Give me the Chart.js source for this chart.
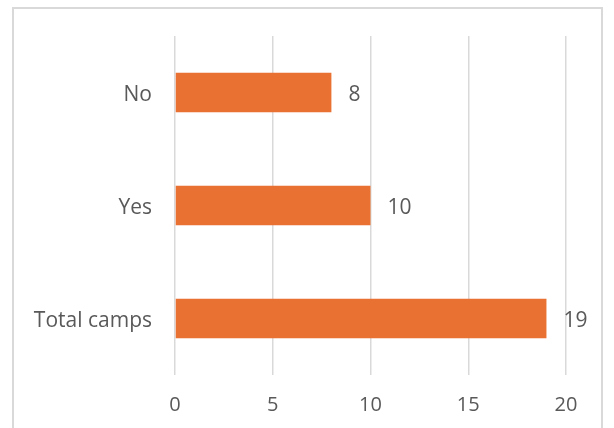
<!DOCTYPE html>
<html>
<head>
<meta charset="utf-8">
<script src="https://cdn.jsdelivr.net/npm/chart.js@4/dist/chart.umd.min.js"></script>
<style>
  html, body { margin: 0; padding: 0; background: #fff; overflow: hidden; }
  #frame {
    position: absolute; left: 12px; top: 7px; width: 591px; height: 440px;
    border: 2px solid #d9d9d9; box-sizing: border-box;
  }
  #chart { position: absolute; left: 0; top: 0; }
</style>
</head>
<body>
<div id="frame"></div>
<canvas id="chart" width="614" height="428"></canvas>
<script>
// categories and counts
const categories = ["No", "Yes", "Total camps"];
const counts = [8, 10, 19];
const xTicks = [0, 5, 10, 15, 20];

const textGrey = "#595959";
const fontFamily = "'Open Sans', 'Noto Sans', sans-serif";

// writes the count just past the end of each bar
const barValueLabels = {
  id: "barValueLabels",
  afterDatasetsDraw(chart) {
    const ctx = chart.ctx;
    const meta = chart.getDatasetMeta(0);
    ctx.save();
    ctx.font = "21px " + fontFamily;
    ctx.fillStyle = textGrey;
    ctx.textAlign = "left";
    ctx.textBaseline = "middle";
    meta.data.forEach((bar, i) => {
      ctx.fillText(String(chart.data.datasets[0].data[i]), bar.x + 17, bar.y + 3);
    });
    ctx.restore();
  }
};

new Chart(document.getElementById("chart"), {
  type: "bar",
  data: {
    labels: categories,
    datasets: [{
      data: counts,
      backgroundColor: "#e97132",
      borderWidth: 0,
      categoryPercentage: 0.7,
      barPercentage: 0.5
    }]
  },
  options: {
    indexAxis: "y",
    responsive: false,
    animation: false,
    layout: { padding: { top: 36, right: 48, left: 0, bottom: 0 } },
    plugins: {
      legend: { display: false },
      tooltip: { enabled: false },
      title: { display: false }
    },
    scales: {
      x: {
        min: 0,
        max: 20,
        afterBuildTicks(scale) {
          scale.ticks = xTicks.map(v => ({ value: v }));
        },
        afterFit(scale) { scale.height = 53; },
        grid: { color: "#d9d9d9", lineWidth: 1.5, drawTicks: false },
        border: { display: false },
        ticks: {
          padding: 18,
          color: textGrey,
          font: { family: fontFamily, size: 20 }
        }
      },
      y: {
        afterFit(scale) { scale.width = 175; },
        grid: { display: false, drawTicks: false },
        border: { display: false },
        ticks: {
          padding: 23,
          labelOffset: 3,
          color: textGrey,
          font: { family: fontFamily, size: 21 }
        }
      }
    }
  },
  plugins: [barValueLabels]
});
</script>
</body>
</html>
